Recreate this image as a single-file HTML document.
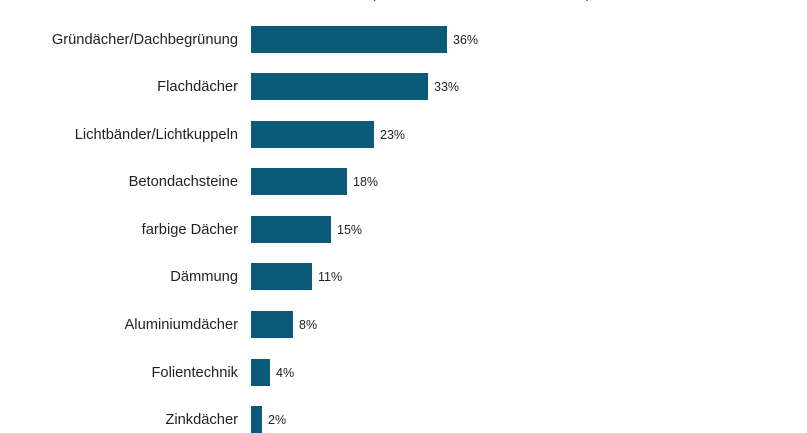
<!DOCTYPE html>
<html><head><meta charset="utf-8"><style>
body{margin:0;background:#fff;width:807px;height:421px;overflow:hidden;position:relative;font-family:"Liberation Sans",sans-serif}
.t{position:absolute;left:0;width:807px;top:-15px;text-align:center;font-size:15px;color:#333}
.l{position:absolute;right:569px;font-size:14.7px;color:#222;white-space:nowrap;line-height:16px}
.b{position:absolute;left:251px;height:27px;background:#0b5a78}
.v{position:absolute;font-size:12.5px;color:#222;line-height:16px}
</style></head><body>
<div class="t">kommenden 5 Jahren" (Mehrfachantworten in %, n=111)</div>
<div class="l" style="top:32px">Gründächer/Dachbegrünung</div><div class="b" style="top:26px;width:196px"></div><div class="v" style="top:32px;left:453px">36%</div>
<div class="l" style="top:79px">Flachdächer</div><div class="b" style="top:73px;width:177px"></div><div class="v" style="top:79px;left:434px">33%</div>
<div class="l" style="top:127px">Lichtbänder/Lichtkuppeln</div><div class="b" style="top:121px;width:123px"></div><div class="v" style="top:127px;left:380px">23%</div>
<div class="l" style="top:174px">Betondachsteine</div><div class="b" style="top:168px;width:96px"></div><div class="v" style="top:174px;left:353px">18%</div>
<div class="l" style="top:222px">farbige Dächer</div><div class="b" style="top:216px;width:80px"></div><div class="v" style="top:222px;left:337px">15%</div>
<div class="l" style="top:269px">Dämmung</div><div class="b" style="top:263px;width:61px"></div><div class="v" style="top:269px;left:318px">11%</div>
<div class="l" style="top:317px">Aluminiumdächer</div><div class="b" style="top:311px;width:42px"></div><div class="v" style="top:317px;left:299px">8%</div>
<div class="l" style="top:365px">Folientechnik</div><div class="b" style="top:359px;width:19px"></div><div class="v" style="top:365px;left:276px">4%</div>
<div class="l" style="top:412px">Zinkdächer</div><div class="b" style="top:406px;width:11px"></div><div class="v" style="top:412px;left:268px">2%</div>
</body></html>
